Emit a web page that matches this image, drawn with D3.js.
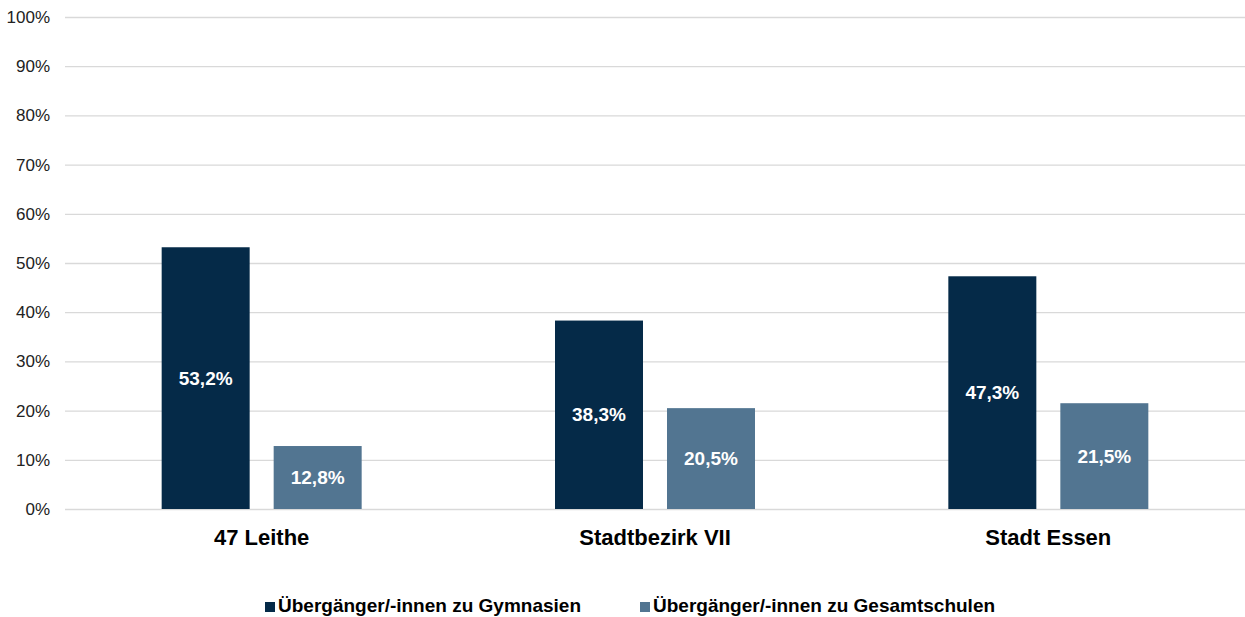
<!DOCTYPE html>
<html>
<head>
<meta charset="utf-8">
<script src="https://cdn.jsdelivr.net/npm/d3@7"></script>
<style>
  body { margin: 0; background: #fff; }
  svg { font-family: "Liberation Sans", Arial, sans-serif; }
</style>
</head>
<body>
<svg id="chart" width="1245" height="617"></svg>
<script>
const categories = ["47 Leithe", "Stadtbezirk VII", "Stadt Essen"];
const seriesNames = ["Übergänger/-innen zu Gymnasien", "Übergänger/-innen zu Gesamtschulen"];
const gymnasien = [53.2, 38.3, 47.3];
const gesamtschulen = [12.8, 20.5, 21.5];
const yTicks = [0, 10, 20, 30, 40, 50, 60, 70, 80, 90, 100];
const colors = ["#052a48", "#527591"];

const svg = d3.select("#chart");
const plotLeft = 65, plotRight = 1245, plotTop = 17, plotBottom = 509;

const x0 = d3.scaleBand().domain(categories).range([plotLeft, plotRight]);
const x1 = d3.scaleBand().domain([0, 1])
    .range([x0.bandwidth() / 2 - 100, x0.bandwidth() / 2 + 100])
    .paddingInner(0.2143);
const y = d3.scaleLinear().domain([0, 100]).range([plotBottom, plotTop]);

// gridlines + tick labels
const yAxis = d3.axisLeft(y).tickValues(yTicks)
    .tickSize(-(plotRight - plotLeft)).tickFormat(d => d + "%").tickPadding(15);
const gAxis = svg.append("g").attr("transform", `translate(${plotLeft},0)`).call(yAxis);
gAxis.select(".domain").remove();
gAxis.selectAll(".tick line").attr("stroke", "#d9d9d9").attr("stroke-width", 1.3);
gAxis.selectAll(".tick text").attr("fill", "#222").style("font-size", "17px")
    .style("font-family", "'Liberation Sans', Arial, sans-serif");

const rows = categories.map((c, i) => ({ cat: c, vals: [gymnasien[i], gesamtschulen[i]] }));

const groups = svg.selectAll(".grp").data(rows).enter()
    .append("g").attr("class", "grp")
    .attr("transform", d => `translate(${x0(d.cat)},0)`);

groups.selectAll("rect").data(d => d.vals).enter()
    .append("rect")
    .attr("x", (d, i) => x1(i))
    .attr("width", x1.bandwidth())
    .attr("y", d => y(d))
    .attr("height", d => plotBottom - y(d))
    .attr("fill", (d, i) => colors[i]);

groups.selectAll(".val").data(d => d.vals).enter()
    .append("text").attr("class", "val")
    .attr("x", (d, i) => x1(i) + x1.bandwidth() / 2)
    .attr("y", d => (y(d) + plotBottom) / 2)
    .attr("dy", "0.35em")
    .attr("text-anchor", "middle")
    .attr("fill", "#fff")
    .style("font-size", "19px").style("font-weight", "bold")
    .text(d => d.toFixed(1).replace(".", ",") + "%");

// category labels
svg.selectAll(".cat").data(categories).enter()
    .append("text").attr("class", "cat")
    .attr("x", d => x0(d) + x0.bandwidth() / 2)
    .attr("y", 545)
    .attr("text-anchor", "middle")
    .style("font-size", "22px").style("font-weight", "bold")
    .attr("fill", "#000")
    .text(d => d);

// legend
const legendX = [265, 640];
const lg = svg.selectAll(".lg").data(seriesNames).enter()
    .append("g").attr("class", "lg")
    .attr("transform", (d, i) => `translate(${legendX[i]},612)`);
lg.append("rect").attr("x", 0).attr("y", -10).attr("width", 10).attr("height", 10)
    .attr("fill", (d, i) => colors[i]);
lg.append("text").attr("x", 13).attr("y", 0)
    .style("font-size", "19px").style("font-weight", "bold")
    .text(d => d);
</script>
</body>
</html>
